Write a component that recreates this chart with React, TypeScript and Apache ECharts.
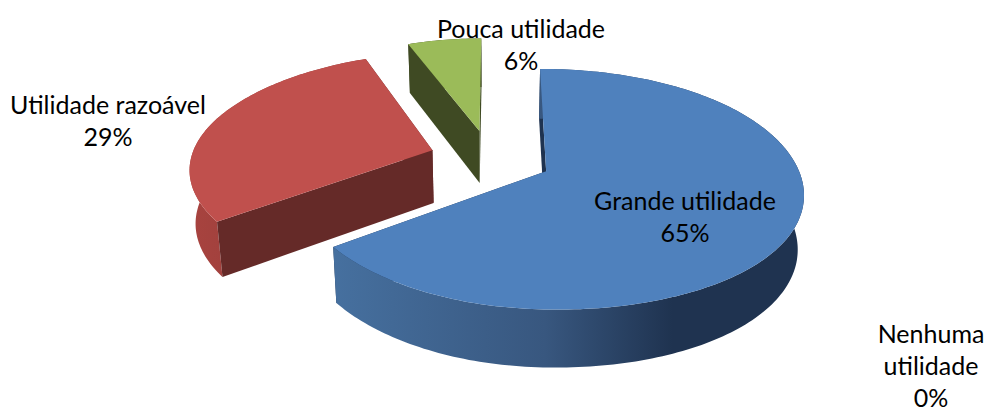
import React, { useEffect, useRef } from "react";
import * as echarts from "echarts";

const categories = ["Grande utilidade", "Nenhuma\nutilidade", "Utilidade razoável", "Pouca utilidade"];
const values = [65, 0, 29, 6];
const topColors = ["#4F81BD", "#F79646", "#C0504D", "#9BBB59"];
const cutColors = ["#1F3350", "#633A1C", "#652A28", "#3F4A23"];
const wallStops = [
  [[0, "#46709F"], [0.45, "#38577F"], [0.72, "#1F3350"], [1, "#1F3350"]],
  [[0, "#F79646"], [1, "#F79646"]],
  [[0, "#A8433F"], [1, "#8A3A37"]],
  [[0, "#3F4A23"], [1, "#3F4A23"]],
];
const labelPos = [[685, 215.5], [931, 364.5], [108, 120], [521, 43.5]];

const CX = 490.5, CY = 158, A = 245, B = 113.7, P = 0.148, Q = 0.01, SKEW = 7;
const EXPLODE = 0.25, DEPTH = 53, CONVERGE = 0.98, FONT = 25, LINE = 32;

const total = values.reduce((s, v) => s + v, 0);

function project(u: number, v: number, drop: boolean): number[] {
  const w = 1 + P * v;
  const x = CX + ((A * u) / w) * (1 + Q * u) + SKEW * v * v * Math.abs(u);
  const y = CY - (B * v) / w;
  if (!drop) return [x, y];
  return [CX + (x - CX) * CONVERGE, y + DEPTH / Math.sqrt(w)];
}

function renderItem(params: any, api: any) {
  const i = params.dataIndex;
  const value = api.value(0);
  const before = values.slice(0, i).reduce((s, v) => s + v, 0);
  const t0 = (before / total) * Math.PI * 2;
  const t1 = ((before + value) / total) * Math.PI * 2;
  const mid = (t0 + t1) / 2;
  const ou = EXPLODE * Math.sin(mid);
  const ov = EXPLODE * Math.cos(mid);
  const children: any[] = [];

  if (value > 0) {
    const rim: number[][] = [];
    const steps = Math.max(8, Math.ceil((t1 - t0) / 0.02));
    for (let k = 0; k <= steps; k++) {
      const t = t0 + ((t1 - t0) * k) / steps;
      rim.push([ou + Math.sin(t), ov + Math.cos(t)]);
    }
    const apex = [ou, ov];
    const quad = (a: number[], b: number[]) => [
      project(a[0], a[1], false),
      project(b[0], b[1], false),
      project(b[0], b[1], true),
      project(a[0], a[1], true),
    ];
    // A cut face whose outward normal points at the viewer goes in front of the rim wall.
    const startCut = { points: quad(apex, rim[0]), front: Math.cos(t0 - Math.PI / 2) < -0.01 };
    const endCut = { points: quad(apex, rim[rim.length - 1]), front: Math.cos(t1 + Math.PI / 2) < -0.01 };
    const cuts = [startCut, endCut];
    const wall = [
      ...rim.map((p) => project(p[0], p[1], false)),
      ...rim.slice().reverse().map((p) => project(p[0], p[1], true)),
    ];
    const wallFill = new echarts.graphic.LinearGradient(
      0, 0, 1, 0,
      wallStops[i].map((s) => ({ offset: s[0] as number, color: s[1] as string }))
    );
    const addCut = (c: { points: number[][] }) =>
      children.push({ type: "polygon", shape: { points: c.points }, style: { fill: cutColors[i] } });
    cuts.filter((c) => !c.front).forEach(addCut);
    children.push({ type: "polygon", shape: { points: wall }, style: { fill: wallFill } });
    cuts.filter((c) => c.front).forEach(addCut);
    children.push({
      type: "polygon",
      shape: { points: [apex, ...rim].map((p) => project(p[0], p[1], false)) },
      style: { fill: topColors[i] },
    });
  }
  // The category lines and the value line are separate texts so the value's box stays in the page.
  const nameLines = categories[i].split("\n").length;
  const top = labelPos[i][1] - ((nameLines + 1) * LINE) / 2;
  const textStyle = { fontFamily: "Lato", fontSize: FONT, fill: "#000", align: "center", verticalAlign: "middle" };
  children.push({
    type: "text",
    x: labelPos[i][0],
    y: top + (nameLines * LINE) / 2,
    z2: 10,
    style: { ...textStyle, text: categories[i], lineHeight: LINE },
  });
  children.push({
    type: "text",
    x: labelPos[i][0],
    y: top + nameLines * LINE + LINE / 2,
    z2: 10,
    style: { ...textStyle, text: `${value}%`, lineHeight: FONT - 1 },
  });
  return { type: "group", children };
}

export default function App() {
  const ref = useRef<HTMLDivElement>(null);
  useEffect(() => {
    document.body.style.margin = "0";
    const chart = echarts.init(ref.current!, null, { renderer: "svg" });
    // Painted back to front: green, red, then blue, with the labels above.
    const order = [3, 2, 0, 1];
    chart.setOption({
      animation: false,
      backgroundColor: "#fff",
      series: order.map((idx) => ({
        type: "custom",
        coordinateSystem: "none",
        silent: true,
        renderItem: (params: any, api: any) =>
          renderItem({ ...params, dataIndex: idx }, api),
        data: [[values[idx]]],
      })),
    });
    return () => chart.dispose();
  }, []);
  return <div ref={ref} style={{ width: 990, height: 410 }} />;
}
